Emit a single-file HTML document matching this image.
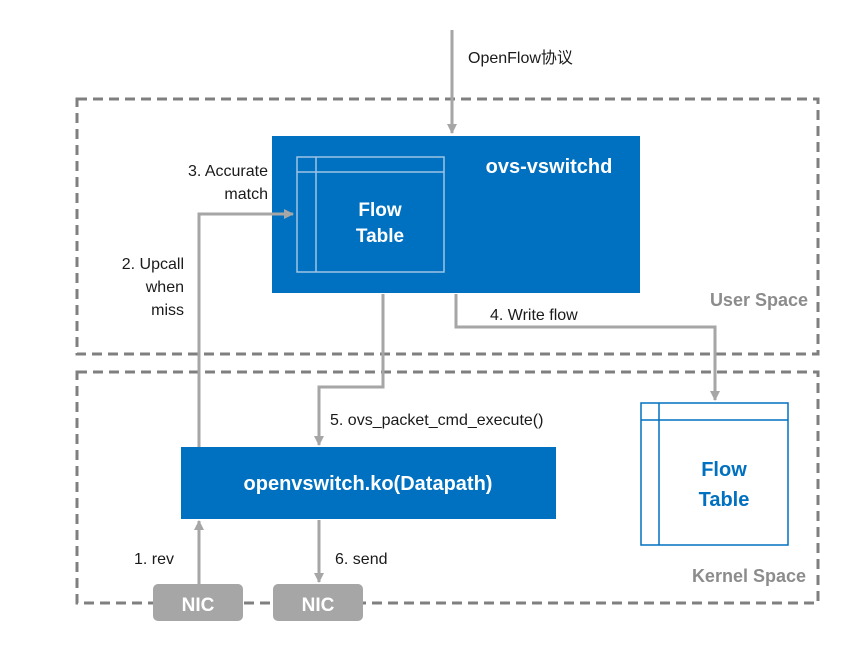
<!DOCTYPE html>
<html><head><meta charset="utf-8"><style>
html,body{margin:0;padding:0;background:#fff;}
svg{display:block;font-family:"Liberation Sans","Noto Sans CJK SC",sans-serif;}
</style></head><body>
<svg width="868" height="654" viewBox="0 0 868 654" xmlns="http://www.w3.org/2000/svg">
<defs>
<marker id="a" markerWidth="10" markerHeight="10" refX="9" refY="5" orient="auto" markerUnits="userSpaceOnUse">
<path d="M0,0 L10,5 L0,10 z" fill="#a6a6a6"/></marker>
</defs>
<g fill="none" stroke="#7f7f7f" stroke-width="3" stroke-dasharray="10,6">
<rect x="77" y="99" width="741" height="255"/>
<rect x="77" y="372" width="741" height="231"/>
</g>
<g fill="none" stroke="#a6a6a6" stroke-width="3">
<path d="M452,30 V133" marker-end="url(#a)"/>
<path d="M383,294 V387 H319 V445" marker-end="url(#a)"/>
<path d="M456,294 V327 H715 V400" marker-end="url(#a)"/>
<path d="M199,584 V521" marker-end="url(#a)"/>
<path d="M319,520 V582" marker-end="url(#a)"/>
</g>
<rect x="272" y="136" width="368" height="157" fill="#0070c0"/>
<g fill="none" stroke="#9dc3e6" stroke-width="1.5">
<rect x="297" y="157" width="147" height="115"/>
<path d="M297,172 H444 M316,157 V272"/>
</g>
<path d="M199,447 V214 H293" fill="none" stroke="#a6a6a6" stroke-width="3" marker-end="url(#a)"/>
<text x="549" y="173" fill="#fff" font-size="20" font-weight="bold" text-anchor="middle">ovs-vswitchd</text>
<text x="380" y="216" fill="#fff" font-size="19" font-weight="bold" text-anchor="middle">Flow</text>
<text x="380" y="242" fill="#fff" font-size="19" font-weight="bold" text-anchor="middle">Table</text>
<rect x="181" y="447" width="375" height="72" fill="#0070c0"/>
<text x="368" y="490" fill="#fff" font-size="20" font-weight="bold" text-anchor="middle">openvswitch.ko(Datapath)</text>
<rect x="641" y="403" width="147" height="142" fill="#fff" stroke="#0070c0" stroke-width="1.5"/>
<path d="M641,420 H788 M659,403 V545" stroke="#0070c0" stroke-width="1.5" fill="none"/>
<text x="724" y="476" fill="#0070c0" font-size="20" font-weight="bold" text-anchor="middle">Flow</text>
<text x="724" y="506" fill="#0070c0" font-size="20" font-weight="bold" text-anchor="middle">Table</text>
<rect x="153" y="584" width="90" height="37" rx="5" fill="#a6a6a6"/>
<rect x="273" y="584" width="90" height="37" rx="5" fill="#a6a6a6"/>
<text x="198" y="611" fill="#fff" font-size="19" font-weight="bold" text-anchor="middle">NIC</text>
<text x="318" y="611" fill="#fff" font-size="19" font-weight="bold" text-anchor="middle">NIC</text>
<g font-size="16" fill="#1a1a1a">
<text x="468" y="63">OpenFlow协议</text>
<text x="268" y="176" text-anchor="end">3. Accurate</text>
<text x="268" y="199" text-anchor="end">match</text>
<text x="184" y="269" text-anchor="end">2. Upcall</text>
<text x="184" y="292" text-anchor="end">when</text>
<text x="184" y="315" text-anchor="end">miss</text>
<text x="490" y="320">4. Write flow</text>
<text x="330" y="425">5. ovs_packet_cmd_execute()</text>
<text x="134" y="564">1. rev</text>
<text x="335" y="564">6. send</text>
</g>
<g font-size="18" font-weight="bold" fill="#8c8c8c">
<text x="808" y="306" text-anchor="end">User Space</text>
<text x="806" y="582" text-anchor="end">Kernel Space</text>
</g>
</svg>
</body></html>
